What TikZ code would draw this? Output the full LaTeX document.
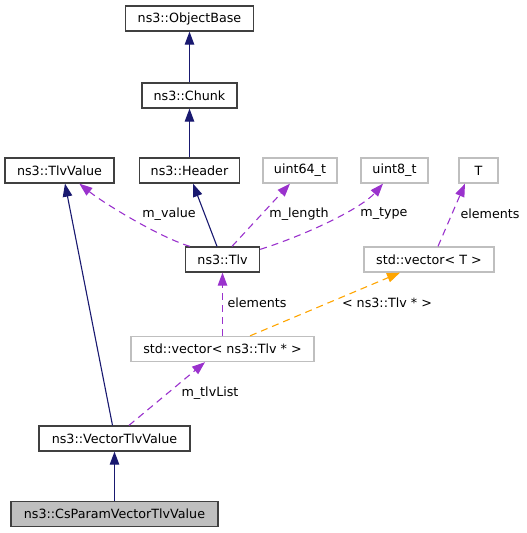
\documentclass[tikz,border=0pt]{standalone}
\usepackage{fontspec}
\setmainfont{DejaVu Sans}
\usetikzlibrary{arrows.meta}
\definecolor{navyline}{HTML}{191970}
\definecolor{purpline}{HTML}{9A32CD}
\definecolor{orangeline}{HTML}{FFA500}
\definecolor{boxgrey}{HTML}{BFBFBF}
\definecolor{boxdark}{HTML}{404040}
\tikzset{
  cls/.style={draw=boxdark, line width=1.3pt, fill=white, minimum height=25pt, inner sep=0pt, font=\fontsize{12.7}{15}\selectfont},
  ext/.style={draw=boxgrey, line width=1.3pt, fill=white, minimum height=25pt, inner sep=0pt, font=\fontsize{12.7}{15}\selectfont},
  lbl/.style={inner sep=0pt, font=\fontsize{12.7}{15}\selectfont},
  inh/.style={-{Triangle[length=13pt,width=9.5pt,fill=navyline]}, draw=navyline, line width=1.1pt},
  use/.style={-{Triangle[length=13pt,width=9.5pt,fill=purpline]}, draw=purpline, line width=1.1pt, dash pattern=on 7pt off 5pt},
  tmpl/.style={-{Triangle[length=13pt,width=9.5pt,fill=orangeline]}, draw=orangeline, line width=1.1pt, dash pattern=on 7pt off 5pt}
}
\begin{document}
\begin{tikzpicture}[x=1pt,y=-1pt]
\useasboundingbox (0,0) rectangle (527,533);
\node[cls, minimum width=128pt] (objectbase) at (189.5,18.5) {ns3::ObjectBase};
\node[cls, minimum width=95pt] (chunk) at (189.5,95.5) {ns3::Chunk};
\node[cls, minimum width=109pt] (tlvvalue) at (59.5,170.5) {ns3::TlvValue};
\node[cls, minimum width=100pt] (header) at (189.5,170.5) {ns3::Header};
\node[ext, minimum width=74pt] (u64) at (300,170.5) {uint64\_t};
\node[ext, minimum width=67pt] (u8) at (394.5,170.5) {uint8\_t};
\node[ext, minimum width=39pt] (T) at (478.5,170.5) {T};
\node[cls, minimum width=74pt] (tlv) at (222.5,259.5) {ns3::Tlv};
\node[ext, minimum width=130pt] (vecT) at (429,259.5) {std::vector< T >};
\node[ext, minimum width=183pt] (vecTlv) at (222.5,349) {std::vector< ns3::Tlv * >};
\node[cls, minimum width=151pt] (vtv) at (114.5,438.5) {ns3::VectorTlvValue};
\node[cls, minimum width=207pt, fill=boxgrey] (cs) at (114.5,514) {ns3::CsParamVectorTlvValue};

% inheritance
\draw[inh] (chunk.north) -- (objectbase.south);
\draw[inh] (header.north) -- (chunk.south);
\draw[inh] ([xshift=-5.5pt]tlv.north) -- ([xshift=3.5pt]header.south);
\draw[inh] ([xshift=-2pt]vtv.north) -- ([xshift=5.5pt]tlvvalue.south);
\draw[inh] (cs.north) -- (vtv.south);

% usage
\draw[use] ([xshift=5pt]tlv.north west) .. controls +(-30,-9) and +(25,20) .. ([xshift=75pt]tlvvalue.south west);
\draw[use] ([xshift=9.5pt]tlv.north) -- ([xshift=-10pt]u64.south);
\draw[use] ([yshift=-3pt]tlv.north east) .. controls +(45,-14) and +(-22,25) .. ([xshift=-11.5pt]u8.south);
\draw[use] ([xshift=9pt]vecT.north) -- ([xshift=-13.5pt]T.south);
\draw[use] (vecTlv.north) -- (tlv.south);
\draw[tmpl] ([xshift=27.5pt]vecTlv.north) -- ([xshift=-29pt]vecT.south);
\draw[use] ([xshift=14.5pt]vtv.north) -- ([xshift=-17.5pt]vecTlv.south);

% labels
\node[lbl] (lvalue) at (169,214) {m\_value};
\node[lbl] (llength) at (299,214) {m\_length};
\node[lbl] (ltype) at (384,214) {m\_type};
\node[lbl] (lelemT) at (490,214) {elements};
\node[lbl] (lelemTlv) at (257,303) {elements};
\node[lbl] (ltmpl) at (387,303) {< ns3::Tlv * >};
\node[lbl] (llist) at (210,393) {m\_tlvList};
\end{tikzpicture}
\end{document}
